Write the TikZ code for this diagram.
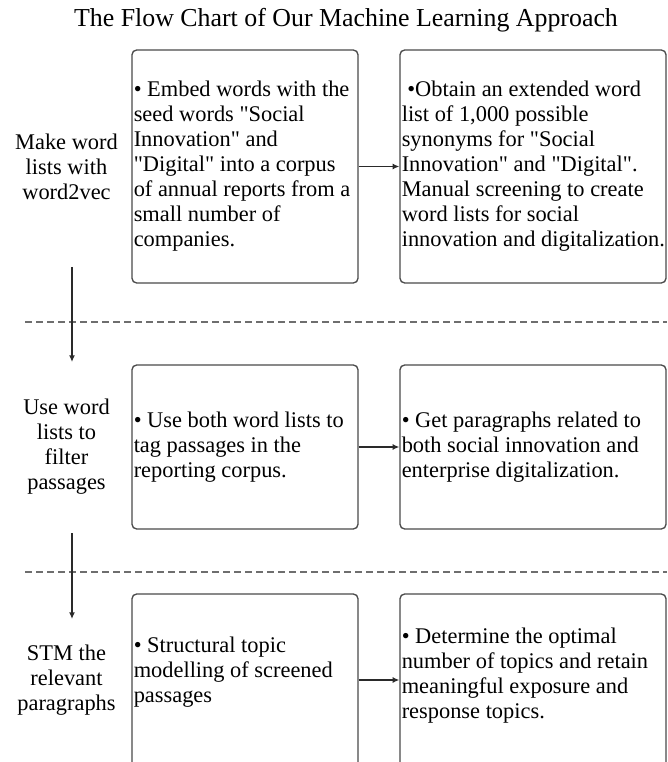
\documentclass[tikz,border=0pt]{standalone}
\usepackage{fontspec}
\setmainfont{Liberation Serif}[Ligatures=TeXOff]
\usetikzlibrary{arrows.meta}
\definecolor{boxc}{HTML}{4A4A4A}
\definecolor{arrc}{HTML}{2A2A2A}
\definecolor{dashc}{HTML}{6E6E6E}
\newcommand\bodyfont{\fontsize{16.8pt}{18.75pt}\selectfont}
\begin{document}
\begin{tikzpicture}[x=0.75pt,y=-0.75pt,
  stepbox/.style={draw=boxc, line width=1pt, rounded corners=3.5pt, inner sep=0pt},
  body/.style={anchor=west, align=left, inner sep=0pt, font=\bodyfont},
  lab/.style={align=center, inner sep=0pt, font=\bodyfont},
  flow/.style={draw=arrc, line width=1.1pt, -{Latex[length=5pt,width=4.5pt]}},
  sepline/.style={draw=dashc, line width=1pt, dash pattern=on 5.25pt off 3pt}]
\useasboundingbox (0,0) rectangle (667,762);
\clip (0,0) rectangle (667,762);

% title
\node[font=\fontsize{19.4pt}{22pt}\selectfont, anchor=base, inner sep=0pt] (title) at (346,27)
  {The Flow Chart of Our Machine Learning Approach};

% row labels
\node[lab] (l1) at (66.5,166.5) {Make word\\lists with\\word2vec};
\node[lab] (l2) at (66.5,447) {Use word\\lists to\\filter\\passages};
\node[lab] (l3) at (66.5,680) {STM the\\relevant\\paragraphs};

% boxes
\node[stepbox, minimum width=169.5pt, minimum height=174.75pt] (b1) at (245,166.5) {};
\node[stepbox, minimum width=199.5pt, minimum height=174.75pt] (b2) at (533,166.5) {};
\node[stepbox, minimum width=169.5pt, minimum height=123pt] (b3) at (245,447) {};
\node[stepbox, minimum width=199.5pt, minimum height=123pt] (b4) at (533,447) {};
\node[stepbox, minimum width=169.5pt, minimum height=139.5pt] (b5) at (245,687) {};
\node[stepbox, minimum width=199.5pt, minimum height=139.5pt] (b6) at (533,687) {};

% box texts
\node[body] (t1) at (133.5,166.5) {• Embed words with the\\seed words "Social\\Innovation" and\\"Digital" into a corpus\\of annual reports from a\\small number of\\companies.};
\node[body] (t2) at (401.5,166.5) {\ •Obtain an extended word\\list of 1,000 possible\\synonyms for "Social\\Innovation" and "Digital".\\Manual screening to create\\word lists for social\\innovation and digitalization.};
\node[body] (t3) at (133.5,447) {• Use both word lists to\\tag passages in the\\reporting corpus.};
\node[body] (t4) at (401.5,447) {• Get paragraphs related to\\both social innovation and\\enterprise digitalization.};
\node[body] (t5) at (133.5,672) {• Structural topic\\modelling of screened\\passages};
\node[body] (t6) at (401.5,675.5) {• Determine the optimal\\number of topics and retain\\meaningful exposure and\\response topics.};

% horizontal connectors
\draw[flow] (b1.east) -- (b2.west);
\draw[flow] (b3.east) -- (b4.west);
\draw[flow] (b5.east |- l3) -- (b6.west |- l3);

% separators
\coordinate (d1s) at (25,322);
\coordinate (d1e) at (667,322);
\coordinate (d2s) at (25,572);
\coordinate (d2e) at (667,572);
\draw[sepline] (d1s) -- (d1e);
\draw[sepline] (d2s) -- (d2e);

% vertical connectors
\coordinate (a1s) at (72,267);
\coordinate (a1e) at (72,362);
\coordinate (a2s) at (72,533);
\coordinate (a2e) at (72,619);
\draw[flow] (a1s) -- (a1e);
\draw[flow] (a2s) -- (a2e);
\end{tikzpicture}
\end{document}
